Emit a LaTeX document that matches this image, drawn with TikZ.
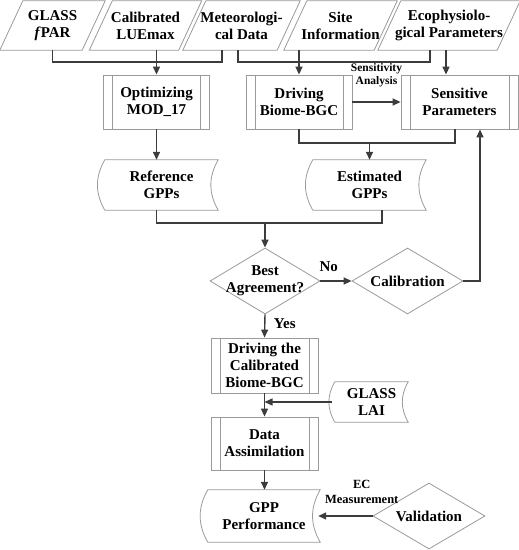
\documentclass[tikz,border=0pt]{standalone}
\usepackage{fontspec}
\setmainfont{Liberation Serif}
\usetikzlibrary{arrows.meta,shapes.geometric,calc}
\definecolor{boxgray}{HTML}{9A9A9A}
\definecolor{linegray}{HTML}{3C3C3C}
\newcommand\storagepath[1]{\draw[outline] (#1.north west) to[bend right=30] (#1.south west) -- (#1.south east) to[bend left=30] (#1.north east) -- cycle;}
\newcommand\parapath[1]{\draw[outline] ([xshift=11.5bp]#1.north west) -- ([xshift=11.5bp]#1.north east) -- ([xshift=-11.5bp]#1.south east) -- ([xshift=-11.5bp]#1.south west) -- cycle;}
\newcommand\procpath[1]{\draw[outline] ([xshift=9.5bp]#1.north west) -- ([xshift=9.5bp]#1.south west) ([xshift=-9.5bp]#1.north east) -- ([xshift=-9.5bp]#1.south east);}
\begin{document}
\begin{tikzpicture}[x=1bp,y=-1bp,
  txt/.style={font=\bfseries\fontsize{15bp}{17bp}\selectfont, align=center, text=black},
  lbl/.style={font=\bfseries\fontsize{11.5bp}{13bp}\selectfont, align=center, text=black, inner sep=0},
  lblb/.style={font=\bfseries\fontsize{12.5bp}{15bp}\selectfont, align=center, text=black, inner sep=0},
  outline/.style={draw=boxgray, line width=0.8bp},
  iobox/.style={txt, rectangle, inner sep=0, minimum height=49bp},
  procbox/.style={txt, outline, rectangle, inner sep=0, minimum height=54bp},
  storebox/.style={txt, rectangle, inner sep=0, minimum height=50bp},
  decision/.style={outline, diamond, inner sep=0, minimum width=111bp, minimum height=66bp},
  conn/.style={draw=linegray, line width=1.4bp},
  arr/.style={conn, -{Triangle[length=8bp,width=7bp]}}
]
\useasboundingbox (0,0) rectangle (519,550);

% top inputs
\node[iobox, minimum width=82bp] (glass) at (52.5,25.5) {GLASS\\\textit{f}PAR};
\node[iobox, minimum width=89bp] (calib) at (145.5,25.5) {Calibrated\\LUEmax};
\node[iobox, minimum width=94bp] (meteo) at (241.5,25.5) {Meteorologi-\\cal Data};
\node[iobox, minimum width=90bp] (site) at (340.5,25.5) {Site\\Information};
\node[iobox, minimum width=119bp] (eco) at (449,25.5) {Ecophysiolo-\\gical Parameters};
\foreach \n in {glass,calib,meteo,site,eco} {\parapath{\n}}

% process boxes
\node[procbox, minimum width=106bp] (opt) at (156.5,102) {Optimizing\\MOD\_17};
\node[procbox, minimum width=106bp] (drv) at (299,102) {Driving\\Biome-BGC};
\node[procbox, minimum width=117bp] (sen) at (459.5,102) {Sensitive\\Parameters};
\node[procbox, minimum width=107bp, minimum height=55bp] (drc) at (264.5,365.5) {Driving the\\Calibrated\\Biome-BGC};
\node[procbox, minimum width=107bp, minimum height=53bp] (dat) at (264.5,443.5) {Data\\Assimilation};
\foreach \n in {opt,drv,sen,drc,dat} {\procpath{\n}}

% stored data
\node[storebox, minimum width=113bp] (ref) at (161.5,185) {Reference\\GPPs};
\node[storebox, minimum width=113bp] (est) at (369.5,185) {Estimated\\GPPs};
\node[storebox, minimum width=73bp, minimum height=40bp] (lai) at (371.5,402) {GLASS\\LAI};
\node[storebox, minimum width=112bp, minimum height=52bp] (gpp) at (264,516) {GPP\\Performance};
\foreach \n in {ref,est,lai,gpp} {\storagepath{\n}}

% decisions
\node[decision, minimum width=110bp, label={[txt]center:{Best\\Agreement?}}] (best) at (265,281) {};
\node[decision, label={[txt]center:Calibration}] (calb) at (407.5,281) {};
\node[decision, minimum width=112bp, label={[txt]center:Validation}] (val) at (429,516) {};

% junction points
\coordinate (jl) at (0,62);
\coordinate (j2) at (est.north |- 0,143);
\coordinate (j3) at (best.north |- 0,223);

% connectors
\draw[conn] (glass.south) |- ([xshift=-19.5bp]meteo.south |- jl) -- ([xshift=-19.5bp]meteo.south);
\draw[arr] (opt.north |- calib.south) -- (opt.north);
\draw[conn] ([xshift=-3.5bp]meteo.south) |- ([xshift=-19bp]eco.south |- jl) -- ([xshift=-19bp]eco.south);
\draw[arr] (drv.north |- site.south) -- (drv.north);
\draw[arr] ([xshift=-3bp]eco.south) -- ([xshift=-3bp]eco.south |- sen.north);
\draw[arr] (drv.east) -- (sen.west) node[lbl, midway, yshift=26.5bp] {Sensitivity\\Analysis};
\draw[arr] (opt.south) -- (opt.south |- ref.north);
\draw[conn] (drv.south) |- (j2) -| ([xshift=-4.5bp]sen.south);
\draw[arr] (j2) -- (est.north);
\draw[conn] (opt.south |- ref.south) |- (j3) -| ([xshift=12.5bp]est.south);
\draw[arr] (j3) -- (best.north);
\draw[arr] (best.east) -- (calb.west) node[txt, pos=0.27, yshift=14bp] {No};
\draw[arr] (calb.east) -| ([xshift=20.5bp]sen.south);
\draw[arr] (best.south) -- (drc.north) node[txt, pos=0.4, xshift=20bp] {Yes};
\draw[arr] (drc.south) -- (dat.north);
\draw[arr] ([xshift=-3bp]lai.west) -- (lai.west -| drc.south);
\draw[arr] (dat.south) -- (dat.south |- gpp.north);
\draw[arr] (val.west) -- ([xshift=-2bp]gpp.east) node[lblb, pos=0.2, yshift=24.5bp] {EC\\Measurement};
\end{tikzpicture}
\end{document}
